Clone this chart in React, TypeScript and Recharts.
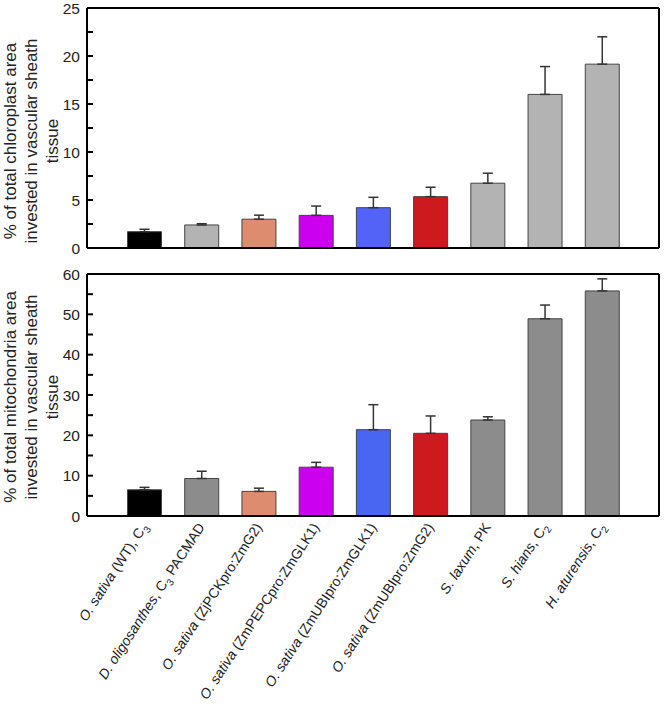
import { BarChart, Bar, Cell, ErrorBar, XAxis, YAxis, ReferenceLine } from 'recharts';

const categories = [
  'O. sativa (WT), C3',
  'D. oligosanthes, C3 PACMAD',
  'O. sativa (ZjPCKpro:ZmG2)',
  'O. sativa (ZmPEPCpro:ZmGLK1)',
  'O. sativa (ZmUBIpro:ZmGLK1)',
  'O. sativa (ZmUBIpro:ZmG2)',
  'S. laxum, PK',
  'S. hians, C2',
  'H. aturensis, C2',
];

// tick label pieces: italic species, plain text, subscript, tail
const labelSpecies = ['O. sativa', 'D. oligosanthes', 'O. sativa', 'O. sativa', 'O. sativa', 'O. sativa', 'S. laxum', 'S. hians', 'H. aturensis'];
const labelText = [' (WT), C', ', C', ' (ZjPCKpro:ZmG2)', ' (ZmPEPCpro:ZmGLK1)', ' (ZmUBIpro:ZmGLK1)', ' (ZmUBIpro:ZmG2)', ', PK', ', C', ', C'];
const labelSub = ['3', '3', '', '', '', '', '', '2', '2'];
const labelTail = ['', ' PACMAD', '', '', '', '', '', '', ''];

const chloroValues = [1.7, 2.4, 3.0, 3.4, 4.2, 5.35, 6.75, 16.0, 19.15];
const chloroErr = [0.25, 0.13, 0.42, 0.97, 1.08, 0.98, 1.04, 2.9, 2.85];
const mitoValues = [6.5, 9.3, 6.1, 12.1, 21.4, 20.5, 23.8, 48.9, 55.8];
const mitoErr = [0.6, 1.8, 0.8, 1.2, 6.2, 4.3, 0.8, 3.4, 3.0];

const chloroTicks = [0, 2.5, 5, 7.5, 10, 12.5, 15, 17.5, 20, 22.5, 25];
const mitoTicks = [0, 5, 10, 15, 20, 25, 30, 35, 40, 45, 50, 55, 60];

const chloroColors = ['#000000', '#b3b3b3', '#dd8c6f', '#cc00ee', '#5363f7', '#cc1a1e', '#b3b3b3', '#b3b3b3', '#b3b3b3'];
const mitoColors = ['#000000', '#8c8c8c', '#dd8c6f', '#cc00ee', '#4866f2', '#cc1a1e', '#8c8c8c', '#8c8c8c', '#8c8c8c'];

const FONT = '"Liberation Sans", Arial, sans-serif';
const GAP = 7;

const chloroData = categories.map((name, i) => ({ name, value: chloroValues[i], err: [0, chloroErr[i]] }));
const mitoData = categories.map((name, i) => ({ name, value: mitoValues[i], err: [0, mitoErr[i]] }));

const makeLeftTick = (major: number) => (props: any) => {
  const { x, y, payload } = props;
  const ax = x + GAP;
  const v = payload.value;
  return (
    <g>
      <line x1={ax} x2={ax + 6} y1={y} y2={y} stroke="#000" strokeWidth={2} />
      {v % major === 0 && (
        <text x={x} y={y} dy="0.36em" textAnchor="end" fontSize={15.5} fontFamily={FONT} fill="#222">
          {v}
        </text>
      )}
    </g>
  );
};

const RightTick = (props: any) => {
  const { x, y } = props;
  const ax = x - GAP;
  return <line x1={ax} x2={ax - 6} y1={y} y2={y} stroke="#000" strokeWidth={2} />;
};

const makeTitle = (lines: string[], cy: number) => () => (
  <g>
    {lines.map((t, i) => (
      <text
        key={i}
        x={0}
        y={0}
        transform={`translate(${15.5 + i * 21}, ${cy}) rotate(-90)`}
        textAnchor="middle"
        fontSize={17}
        fontFamily={FONT}
        fill="#222"
      >
        {t}
      </text>
    ))}
  </g>
);

const CategoryTick = (props: any) => {
  const { x, y, index } = props;
  return (
    <g transform={`translate(${x + 4}, ${y + 11}) rotate(-57)`}>
      <text x={0} y={0} textAnchor="end" fontSize={14} fontFamily={FONT} fill="#222">
        <tspan fontStyle="italic">{labelSpecies[index]}</tspan>
        <tspan>{labelText[index]}</tspan>
        {labelSub[index] && (
          <tspan fontSize={10} dy={4}>
            {labelSub[index]}
          </tspan>
        )}
        {labelTail[index] && <tspan dy={-4}>{labelTail[index]}</tspan>}
      </text>
    </g>
  );
};

function Panel({
  data,
  colors,
  ticks,
  max,
  major,
  title,
  titleY,
  height,
  top,
  xHeight,
  showLabels,
}: any) {
  return (
    <BarChart width={664} height={height} data={data} margin={{ top, right: 3, left: 57, bottom: 0 }} barSize={34}>
      <XAxis
        dataKey="name"
        interval={0}
        padding={{ left: 28.5, right: 28.5 }}
        tickLine={false}
        tickSize={0}
        tickMargin={0}
        axisLine={{ stroke: '#000', strokeWidth: 2 }}
        height={xHeight}
        tick={showLabels ? CategoryTick : false}
      />
      <YAxis
        yAxisId="l"
        width={30}
        domain={[0, max]}
        ticks={ticks}
        interval={0}
        tickLine={false}
        tickSize={0}
        tickMargin={GAP}
        axisLine={{ stroke: '#000', strokeWidth: 2 }}
        tick={makeLeftTick(major)}
        label={makeTitle(title, titleY)}
      />
      <YAxis
        yAxisId="r"
        orientation="right"
        width={2}
        domain={[0, max]}
        ticks={ticks}
        interval={0}
        tickLine={false}
        tickSize={0}
        tickMargin={GAP}
        axisLine={{ stroke: '#000', strokeWidth: 2 }}
        tick={RightTick}
      />
      <ReferenceLine yAxisId="l" y={max} stroke="#000" strokeWidth={2} />
      <Bar yAxisId="l" dataKey="value" stroke="#444" strokeWidth={1} isAnimationActive={false}>
        {data.map((_: any, i: number) => (
          <Cell key={i} fill={colors[i]} />
        ))}
        <ErrorBar dataKey="err" direction="y" width={5} stroke="#333" strokeWidth={1.5} isAnimationActive={false} />
      </Bar>
    </BarChart>
  );
}

export default function App() {
  return (
    <div style={{ position: 'absolute', left: 0, top: 0, width: 664, height: 715, background: '#fff' }}>
      <Panel
        data={chloroData}
        colors={chloroColors}
        ticks={chloroTicks}
        max={25}
        major={5}
        title={['% of total chloroplast area', 'invested in vascular sheath', 'tissue']}
        titleY={141}
        height={258}
        top={8}
        xHeight={10}
        showLabels={false}
      />
      <Panel
        data={mitoData}
        colors={mitoColors}
        ticks={mitoTicks}
        max={60}
        major={10}
        title={['% of total mitochondria area', 'invested in vascular sheath', 'tissue']}
        titleY={139}
        height={457}
        top={16}
        xHeight={199}
        showLabels
      />
    </div>
  );
}
